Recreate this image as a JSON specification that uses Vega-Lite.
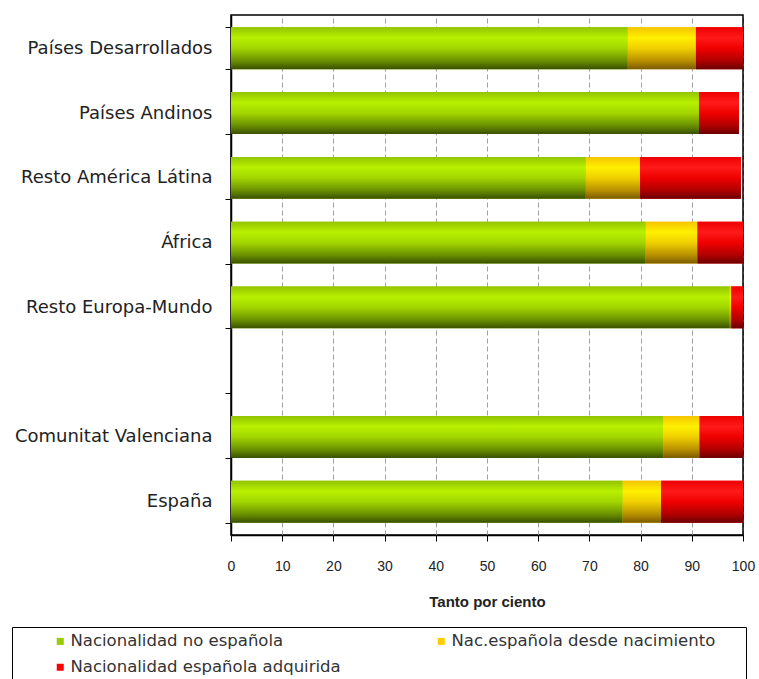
{
  "$schema": "https://vega.github.io/schema/vega-lite/v6.json",
  "width": 512,
  "height": 520,
  "autosize": {"type": "none"},
  "padding": {"left": 231, "top": 15, "right": 16, "bottom": 144},
  "background": "#ffffff",
  "data": {
    "values": [
      {"cat": "Países Desarrollados", "series": "Nacionalidad no española", "order": 1, "value": 77.5},
      {"cat": "Países Desarrollados", "series": "Nac.española desde nacimiento", "order": 2, "value": 13.3},
      {"cat": "Países Desarrollados", "series": "Nacionalidad española adquirida", "order": 3, "value": 9.2},
      {"cat": "Países Andinos", "series": "Nacionalidad no española", "order": 1, "value": 91.4},
      {"cat": "Países Andinos", "series": "Nac.española desde nacimiento", "order": 2, "value": 0},
      {"cat": "Países Andinos", "series": "Nacionalidad española adquirida", "order": 3, "value": 7.8},
      {"cat": "Resto América Látina", "series": "Nacionalidad no española", "order": 1, "value": 69.3},
      {"cat": "Resto América Látina", "series": "Nac.española desde nacimiento", "order": 2, "value": 10.6},
      {"cat": "Resto América Látina", "series": "Nacionalidad española adquirida", "order": 3, "value": 19.7},
      {"cat": "África", "series": "Nacionalidad no española", "order": 1, "value": 81.0},
      {"cat": "África", "series": "Nac.española desde nacimiento", "order": 2, "value": 10.1},
      {"cat": "África", "series": "Nacionalidad española adquirida", "order": 3, "value": 8.9},
      {"cat": "Resto Europa-Mundo", "series": "Nacionalidad no española", "order": 1, "value": 97.4},
      {"cat": "Resto Europa-Mundo", "series": "Nac.española desde nacimiento", "order": 2, "value": 0.3},
      {"cat": "Resto Europa-Mundo", "series": "Nacionalidad española adquirida", "order": 3, "value": 2.3},
      {"cat": "Comunitat Valenciana", "series": "Nacionalidad no española", "order": 1, "value": 84.4},
      {"cat": "Comunitat Valenciana", "series": "Nac.española desde nacimiento", "order": 2, "value": 7.1},
      {"cat": "Comunitat Valenciana", "series": "Nacionalidad española adquirida", "order": 3, "value": 8.5},
      {"cat": "España", "series": "Nacionalidad no española", "order": 1, "value": 76.5},
      {"cat": "España", "series": "Nac.española desde nacimiento", "order": 2, "value": 7.5},
      {"cat": "España", "series": "Nacionalidad española adquirida", "order": 3, "value": 16.0}
    ]
  },
  "transform": [
    {"stack": "value", "groupby": ["cat"], "sort": [{"field": "order"}], "as": ["v0", "v1"]}
  ],
  "encoding": {
    "y": {
      "field": "cat",
      "type": "nominal",
      "title": null,
      "scale": {
        "domain": ["Países Desarrollados", "Países Andinos", "Resto América Látina", "África", "Resto Europa-Mundo", " ", "Comunitat Valenciana", "España"],
        "paddingInner": 0.354,
        "paddingOuter": 0.19
      },
      "axis": {
        "domainColor": "#000000",
        "domainWidth": 1.5,
        "tickColor": "#000000",
        "tickSize": 6,
        "tickBand": "extent",
        "labelFont": "DejaVu Sans",
        "labelFontSize": 18,
        "labelColor": "#222222",
        "labelPadding": 13,
        "labelLimit": 260,
        "grid": false
      }
    },
    "x": {
      "field": "v0",
      "type": "quantitative",
      "scale": {"domain": [0, 100], "nice": false},
      "title": "Tanto por ciento",
      "axis": {
        "values": [0, 10, 20, 30, 40, 50, 60, 70, 80, 90, 100],
        "domainColor": "#000000",
        "domainWidth": 1.5,
        "tickColor": "#000000",
        "tickSize": 6,
        "labelFont": "Liberation Sans",
        "labelFontSize": 14,
        "labelColor": "#222222",
        "labelPadding": 18,
        "labelFlush": false,
        "titleFont": "Liberation Sans",
        "titleFontSize": 15,
        "titleFontWeight": "bold",
        "titleColor": "#222222",
        "titlePadding": 21,
        "grid": true,
        "gridDash": [5, 3],
        "gridColor": {"condition": {"test": "datum.value === 100", "value": "#222222"}, "value": "#a0a0a0"},
        "gridWidth": 1
      }
    },
    "x2": {"field": "v1"}
  },
  "layer": [
    {
      "mark": {"type": "bar"},
      "encoding": {
        "color": {
          "field": "series",
          "type": "nominal",
          "sort": ["Nacionalidad no española", "Nac.española desde nacimiento", "Nacionalidad española adquirida"],
          "scale": {
            "domain": ["Nacionalidad no española", "Nac.española desde nacimiento", "Nacionalidad española adquirida"],
            "range": ["#99cc00", "#ffcc00", "#ff0000"]
          },
          "legend": {
            "orient": "none",
            "legendX": -219,
            "legendY": 612,
            "columns": 2,
            "direction": "horizontal",
            "title": " ",
            "titleOrient": "left",
            "titlePadding": 34,
            "strokeColor": "#000000",
            "padding": 6,
            "symbolType": "square",
            "symbolSize": 49,
            "symbolStrokeWidth": 0,
            "labelFont": "DejaVu Sans",
            "labelFontSize": 16.5,
            "labelColor": "#333333",
            "labelLimit": 600,
            "labelOffset": 2,
            "labelExpr": "datum.value == 'Nac.española desde nacimiento' ? datum.label + '\u2800\u2800' : datum.label",
            "rowPadding": 9,
            "columnPadding": 92
          }
        }
      }
    },
    {
      "transform": [{"filter": "datum.order == 1"}],
      "mark": {
        "type": "bar",
        "color": {
          "gradient": "linear", "x1": 0, "y1": 0, "x2": 0, "y2": 1,
          "stops": [
            {"offset": 0, "color": "#93c400"},
            {"offset": 0.25, "color": "#b8f000"},
            {"offset": 0.5, "color": "#a2d600"},
            {"offset": 0.8, "color": "#6a9000"},
            {"offset": 1, "color": "#3a5000"}
          ]
        }
      }
    },
    {
      "transform": [{"filter": "datum.order == 2"}],
      "mark": {
        "type": "bar",
        "color": {
          "gradient": "linear", "x1": 0, "y1": 0, "x2": 0, "y2": 1,
          "stops": [
            {"offset": 0, "color": "#f5c400"},
            {"offset": 0.25, "color": "#fff000"},
            {"offset": 0.5, "color": "#f0d000"},
            {"offset": 0.8, "color": "#b89000"},
            {"offset": 1, "color": "#7a5a00"}
          ]
        }
      }
    },
    {
      "transform": [{"filter": "datum.order == 3"}],
      "mark": {
        "type": "bar",
        "color": {
          "gradient": "linear", "x1": 0, "y1": 0, "x2": 0, "y2": 1,
          "stops": [
            {"offset": 0, "color": "#ee0000"},
            {"offset": 0.25, "color": "#ff1a1a"},
            {"offset": 0.5, "color": "#f00000"},
            {"offset": 0.8, "color": "#b00000"},
            {"offset": 1, "color": "#6a0000"}
          ]
        }
      }
    }
  ],
  "config": {
    "view": {"stroke": "#000000", "strokeWidth": 1.5},
    "bar": {"stroke": null}
  }
}
